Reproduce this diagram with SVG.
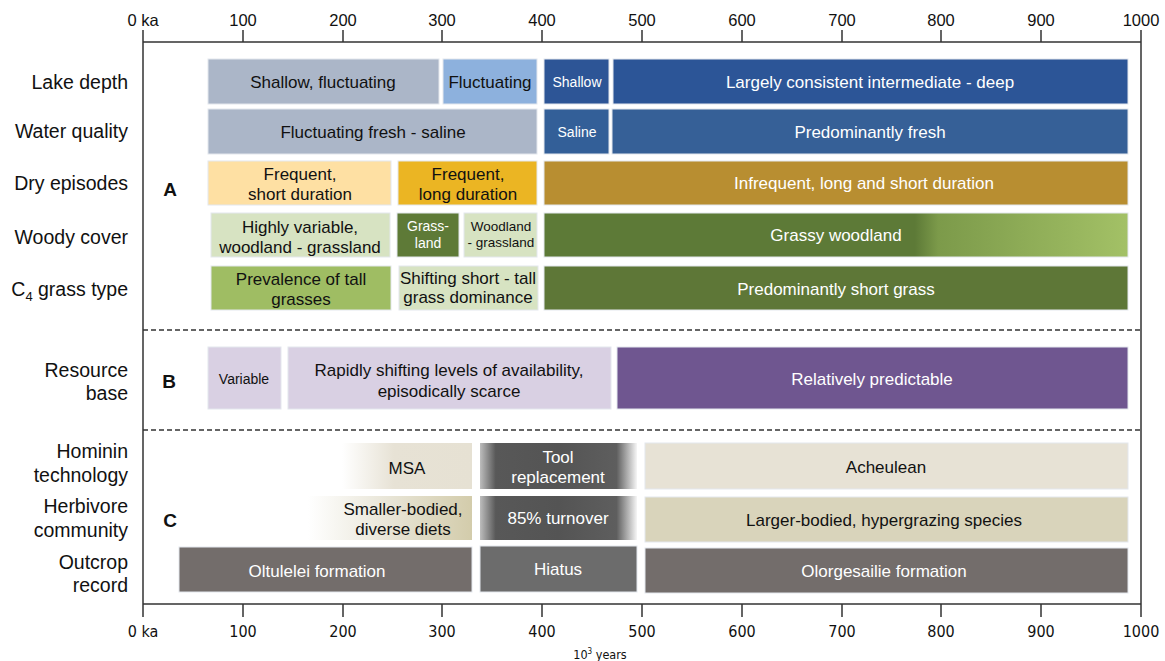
<svg xmlns="http://www.w3.org/2000/svg" width="1165" height="661" viewBox="0 0 1165 661">
<style>
text{font-family:"Liberation Sans",Arial,sans-serif;}
.lbl{font-size:19.5px;fill:#111;text-anchor:end;}
.ax{font-size:16.5px;fill:#111;text-anchor:middle;}
.axb{font-family:"Liberation Sans Narrow","DejaVu Sans Condensed","Liberation Sans",sans-serif;font-size:16px;fill:#111;text-anchor:middle;}
.t{font-size:17px;text-anchor:middle;fill:#111;}
.w{fill:#fff;}
.s{font-size:14px;}
.xs{font-size:13.5px;}
.sec{font-size:19px;font-weight:bold;fill:#111;text-anchor:middle;}
.box{stroke:#e3e7ed;stroke-width:1;}
.frame{stroke:#333;stroke-width:1.5;fill:none;}
.dash{stroke:#333;stroke-width:1.3;stroke-dasharray:5,3;fill:none;}
</style>
<defs>
<linearGradient id="gWoody" x1="0" y1="0" x2="1" y2="0">
<stop offset="0" stop-color="#5d7a37"/>
<stop offset="0.635" stop-color="#5d7a37"/>
<stop offset="0.675" stop-color="#7c9a4a"/>
<stop offset="1" stop-color="#a3c166"/>
</linearGradient>
<linearGradient id="gMSA" x1="0" y1="0" x2="1" y2="0">
<stop offset="0" stop-color="#ffffff"/>
<stop offset="0.4" stop-color="#e7e2d5"/>
<stop offset="1" stop-color="#e6e1d3"/>
</linearGradient>
<linearGradient id="gHerb" x1="0" y1="0" x2="1" y2="0">
<stop offset="0" stop-color="#ffffff"/>
<stop offset="0.45" stop-color="#eae7da"/>
<stop offset="1" stop-color="#d3ccab"/>
</linearGradient>
<linearGradient id="gDark" x1="0" y1="0" x2="1" y2="0">
<stop offset="0" stop-color="#bdbdbd"/>
<stop offset="0.1" stop-color="#585858"/>
<stop offset="0.5" stop-color="#545454"/>
<stop offset="0.87" stop-color="#5e5e5e"/>
<stop offset="1" stop-color="#f6f6f6"/>
</linearGradient>
</defs>
<rect width="1165" height="661" fill="#fff"/>

<g id="axes">
<path class="frame" d="M143 42H1141M143 604H1141M143 42V604M1141 42V604"/>
<path class="frame" d="M143 30V42M243 30V42M343 30V42M442 30V42M542 30V42M642 30V42M742 30V42M842 30V42M941 30V42M1041 30V42M1141 30V42"/>
<path class="frame" d="M143 604V617M243 604V617M343 604V617M442 604V617M542 604V617M642 604V617M742 604V617M842 604V617M941 604V617M1041 604V617M1141 604V617"/>
<text class="ax" x="143" y="26">0 ka</text>
<text class="ax" x="243" y="26">100</text>
<text class="ax" x="343" y="26">200</text>
<text class="ax" x="442" y="26">300</text>
<text class="ax" x="542" y="26">400</text>
<text class="ax" x="642" y="26">500</text>
<text class="ax" x="742" y="26">600</text>
<text class="ax" x="842" y="26">700</text>
<text class="ax" x="941" y="26">800</text>
<text class="ax" x="1041" y="26">900</text>
<text class="ax" x="1141" y="26">1000</text>
<text class="axb" x="143" y="637">0 ka</text>
<text class="axb" x="243" y="637">100</text>
<text class="axb" x="343" y="637">200</text>
<text class="axb" x="442" y="637">300</text>
<text class="axb" x="542" y="637">400</text>
<text class="axb" x="642" y="637">500</text>
<text class="axb" x="742" y="637">600</text>
<text class="axb" x="842" y="637">700</text>
<text class="axb" x="941" y="637">800</text>
<text class="axb" x="1041" y="637">900</text>
<text class="axb" x="1141" y="637">1000</text>
<text class="axb" x="600" y="659" style="font-size:12.5px">10<tspan dy="-5" style="font-size:8px">3</tspan><tspan dy="5"> years</tspan></text>
</g>

<g id="connectors">
<path class="dash" d="M143 330H1141"/>
<path class="dash" d="M143 430H1141"/>
</g>

<g id="row-labels">
<text class="lbl" x="128" y="89">Lake depth</text>
<text class="lbl" x="128" y="138">Water quality</text>
<text class="lbl" x="128" y="190">Dry episodes</text>
<text class="lbl" x="128" y="244">Woody cover</text>
<text class="lbl" x="128" y="296">C<tspan dy="5" style="font-size:13px">4</tspan><tspan dy="-5"> grass type</tspan></text>
<text class="lbl" x="128" y="377">Resource</text>
<text class="lbl" x="128" y="400">base</text>
<text class="lbl" x="128" y="458">Hominin</text>
<text class="lbl" x="128" y="482">technology</text>
<text class="lbl" x="128" y="513">Herbivore</text>
<text class="lbl" x="128" y="537">community</text>
<text class="lbl" x="128" y="569">Outcrop</text>
<text class="lbl" x="128" y="592">record</text>
<text class="sec" x="170" y="196">A</text>
<text class="sec" x="169" y="388">B</text>
<text class="sec" x="170" y="527">C</text>
</g>

<g id="lake-depth">
<rect class="box" x="208" y="59" width="231" height="45" fill="#abb6c8"/>
<text class="t" x="323" y="88">Shallow, fluctuating</text>
<rect class="box" x="443" y="59" width="94" height="45" fill="#8db1dd"/>
<text class="t" x="490" y="88">Fluctuating</text>
<rect class="box" x="544" y="59" width="65" height="45" fill="#2d5596"/>
<text class="t w s" x="577" y="87">Shallow</text>
<rect class="box" x="613" y="59" width="515" height="45" fill="#2c5597"/>
<text class="t w" x="870" y="88">Largely consistent intermediate - deep</text>
</g>

<g id="water-quality">
<rect class="box" x="208" y="109" width="329" height="45" fill="#abb6c8"/>
<text class="t" x="373" y="138">Fluctuating fresh - saline</text>
<rect class="box" x="544" y="109" width="65" height="45" fill="#335f98"/>
<text class="t w s" x="577" y="137">Saline</text>
<rect class="box" x="612" y="109" width="516" height="45" fill="#366097"/>
<text class="t w" x="870" y="138">Predominantly fresh</text>
</g>

<g id="dry-episodes">
<rect class="box" x="208" y="161" width="183" height="44" fill="#fee0a3"/>
<text class="t" x="300" y="180">Frequent,</text>
<text class="t" x="300" y="200">short duration</text>
<rect class="box" x="398" y="161" width="139" height="44" fill="#ebb523"/>
<text class="t" x="468" y="180">Frequent,</text>
<text class="t" x="468" y="200">long duration</text>
<rect class="box" x="544" y="161" width="584" height="44" fill="#b88e31"/>
<text class="t w" x="864" y="189">Infrequent, long and short duration</text>
</g>

<g id="woody-cover">
<rect class="box" x="211" y="213" width="179" height="44" fill="#d7e3c2"/>
<text class="t" x="300" y="233">Highly variable,</text>
<text class="t" x="300" y="253">woodland - grassland</text>
<rect class="box" x="397" y="213" width="62" height="44" fill="#5e7a37"/>
<text class="t w s" x="428" y="231">Grass-</text>
<text class="t w s" x="428" y="248">land</text>
<rect class="box" x="464" y="213" width="73" height="44" fill="#d7e3c2"/>
<text class="t xs" x="501" y="231">Woodland</text>
<text class="t xs" x="501" y="247">- grassland</text>
<rect class="box" x="544" y="213" width="584" height="44" fill="url(#gWoody)"/>
<text class="t w" x="836" y="241">Grassy woodland</text>
</g>

<g id="c4-grass">
<rect class="box" x="211" y="266" width="180" height="44" fill="#9fbd63"/>
<text class="t" x="301" y="285">Prevalence of tall</text>
<text class="t" x="301" y="305">grasses</text>
<rect class="box" x="399" y="266" width="139" height="44" fill="#d7e3c2"/>
<text class="t" x="468" y="284">Shifting short - tall</text>
<text class="t" x="468" y="303">grass dominance</text>
<rect class="box" x="544" y="266" width="584" height="44" fill="#5e7737"/>
<text class="t w" x="836" y="295">Predominantly short grass</text>
</g>

<g id="resource-base">
<rect class="box" x="208" y="347" width="73" height="62" fill="#d9d0e3"/>
<text class="t s" x="244" y="384">Variable</text>
<rect class="box" x="288" y="347" width="323" height="62" fill="#d9d0e3"/>
<text class="t" x="449" y="376">Rapidly shifting levels of availability,</text>
<text class="t" x="449" y="397">episodically scarce</text>
<rect class="box" x="617" y="347" width="511" height="62" fill="#6f5690"/>
<text class="t w" x="872" y="385">Relatively predictable</text>
</g>

<g id="hominin-technology">
<rect x="342" y="443" width="130" height="46" fill="url(#gMSA)"/>
<text class="t" x="407" y="474">MSA</text>
<rect x="480" y="443" width="157" height="46" fill="url(#gDark)"/>
<text class="t w" x="558" y="463">Tool</text>
<text class="t w" x="558" y="483">replacement</text>
<rect class="box" x="645" y="443" width="483" height="46" fill="#e7e2d5"/>
<text class="t" x="886" y="473">Acheulean</text>
</g>

<g id="herbivore-community">
<rect x="308" y="496" width="164" height="44" fill="url(#gHerb)"/>
<text class="t" x="403" y="515">Smaller-bodied,</text>
<text class="t" x="403" y="535">diverse diets</text>
<rect x="480" y="496" width="157" height="44" fill="url(#gDark)"/>
<text class="t w" x="558" y="524">85% turnover</text>
<rect class="box" x="645" y="497" width="483" height="45" fill="#d9d4bb"/>
<text class="t" x="884" y="526">Larger-bodied, hypergrazing species</text>
</g>

<g id="outcrop-record">
<rect class="box" x="179" y="547" width="293" height="45" fill="#736d6b"/>
<text class="t w" x="317" y="577">Oltulelei formation</text>
<rect class="box" x="480" y="546" width="157" height="46" fill="#6c6c6c"/>
<text class="t w" x="558" y="575">Hiatus</text>
<rect class="box" x="645" y="548" width="483" height="45" fill="#736d6b"/>
<text class="t w" x="884" y="577">Olorgesailie formation</text>
</g>
</svg>
